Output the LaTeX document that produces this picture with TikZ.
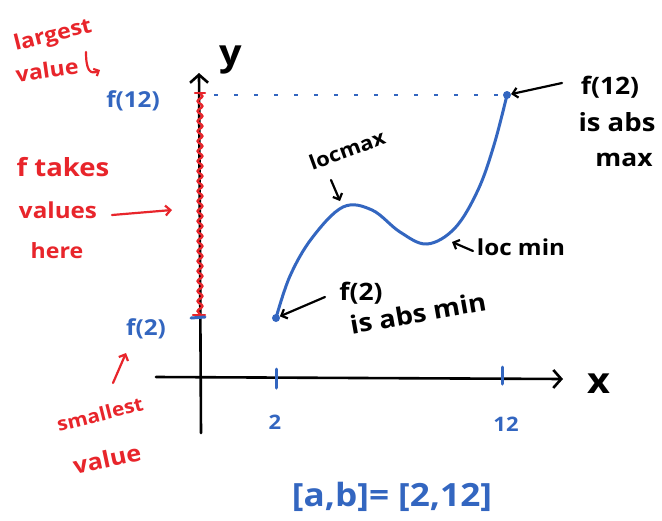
\documentclass[tikz,border=0pt]{standalone}
\usepackage{fontspec}
\setmainfont{Open Sans}[FakeStretch=1.1]
\usetikzlibrary{arrows.meta,decorations.pathmorphing}
\definecolor{pblue}{HTML}{3366C0}
\definecolor{pred}{HTML}{E8252B}
\newcommand\myfs[1]{\fontsize{#1}{#1}\selectfont\bfseries}
\tikzset{
 axisline/.style={line width=2.6pt, black, line cap=round},
 curveline/.style={line width=3pt, pblue, line cap=round},
 bluetxt/.style={text=pblue, inner sep=0pt},
 redtxt/.style={text=pred, inner sep=0pt},
 blktxt/.style={text=black, inner sep=0pt},
 blkarrow/.style={line width=2.2pt, black, line cap=round, -{Straight Barb[length=5pt,width=10pt]}},
 redarrow/.style={line width=2.2pt, pred, line cap=round, -{Straight Barb[length=5pt,width=10pt]}},
 dotnode/.style={circle, fill=pblue, inner sep=0pt, minimum size=8pt},
 ticks/.style={pblue, line width=3pt, line cap=round},
}
\begin{document}
\begin{tikzpicture}[x=1pt,y=-1pt]
\useasboundingbox[fill=white] (0,0) rectangle (662,520);
% axes
\coordinate (ybot) at (201,433);
\coordinate (ytop) at (199,73);
\coordinate (xl) at (156,377);
\coordinate (xr) at (563,379);
\draw[axisline, -{Straight Barb[length=8pt,width=18pt]}] (ybot) -- (ytop);
\draw[axisline, -{Straight Barb[length=8pt,width=18pt]}] (xl) -- (xr);
\node[blktxt, font=\myfs{36}] (ylab) at (231,60) {y};
\node[blktxt, font=\myfs{36}] (xlab) at (599,384) {x};
% range on y-axis
\coordinate (rtop) at (200,93);
\coordinate (rbot) at (200,317);
\draw[pred, line width=2.4pt, decorate, decoration={snake, amplitude=2.4pt, segment length=10pt}] (rtop) -- (rbot);
\draw[pred, line width=2.4pt, line cap=round] (195,93) -- (205,93);
\draw[pred, line width=2.4pt, line cap=round] (193,315) -- (205,315);
\draw[ticks] (191,318) -- (205,317);
% x ticks
\draw[ticks] (276,369) -- (276,388);
\draw[ticks] (502,367) -- (502,384);
\node[bluetxt, font=\myfs{20}] (t2) at (275,422) {2};
\node[bluetxt, font=\myfs{20}] (t12) at (506,424) {12};
% y labels
\node[bluetxt, font=\myfs{22}] (f12y) at (133,101) {f(12)};
\node[bluetxt, font=\myfs{22}] (f2y) at (146,329) {f(2)};
% curve
\node[dotnode] (mindot) at (276,318) {};
\node[dotnode] (maxdot) at (507,95) {};
\draw[pblue, line width=2pt, dash pattern=on 4pt off 16pt] (214,95) -- (maxdot);
\draw[curveline] plot[smooth, tension=0.6] coordinates {(276,318) (290,276) (312,238) (343,207) (372,210) (400,232) (427,244) (455,228) (478,190) (494,145) (507,95)};
% black labels
\node[blktxt, font=\myfs{20}, rotate=20] (locmax) at (347,150) {locmax};
\coordinate (lmA) at (331,180);
\coordinate (lmB) at (340,201);
\draw[blkarrow] (lmA) -- (lmB);
\node[blktxt, font=\myfs{22}] (locmin) at (521,247) {loc min};
\coordinate (lnA) at (473,251);
\coordinate (lnB) at (452,242);
\draw[blkarrow] (lnA) -- (lnB);
\node[blktxt, font=\myfs{24}] (f2b) at (361,293) {f(2)};
\node[blktxt, font=\myfs{25}, rotate=10] (absmin) at (418,313) {is abs min};
\coordinate (amA) at (325,297);
\draw[blkarrow] (amA) -- (mindot);
\node[blktxt, font=\myfs{24}] (f12b) at (610,87) {f(12)};
\node[blktxt, font=\myfs{25}] (isabs) at (617,122) {is abs};
\node[blktxt, font=\myfs{24}] (maxw) at (624,160) {max};
\coordinate (axA) at (562,83);
\draw[blkarrow] (axA) -- (maxdot);
% red labels
\node[redtxt, font=\myfs{21}, rotate=14] (largest) at (53,36) {largest};
\node[redtxt, font=\myfs{21}, rotate=8] (value1) at (47,70) {value};
\draw[pred, line width=2.2pt, line cap=round, -{Straight Barb[length=4pt,width=8pt]}] (86,52) .. controls (86,70) and (90,75) .. (100,70);
\node[redtxt, font=\myfs{25}] (ftakes) at (63,167) {f takes};
\node[redtxt, font=\myfs{22}] (values) at (58,210) {values};
\node[redtxt, font=\myfs{21}] (here) at (57,251) {here};
\coordinate (hA) at (112,215);
\coordinate (hB) at (172,210);
\draw[redarrow] (hA) -- (hB);
\node[redtxt, font=\myfs{19}, rotate=14] (smallest) at (100,414) {smallest};
\node[redtxt, font=\myfs{23}, rotate=12] (value2) at (107,459) {value};
\coordinate (sA) at (113,383);
\coordinate (sB) at (126,353);
\draw[redarrow] (sA) -- (sB);
% interval
\node[bluetxt, font=\myfs{32}] (interval) at (392,497) {[a,b]= [2,12]};
\end{tikzpicture}
\end{document}
